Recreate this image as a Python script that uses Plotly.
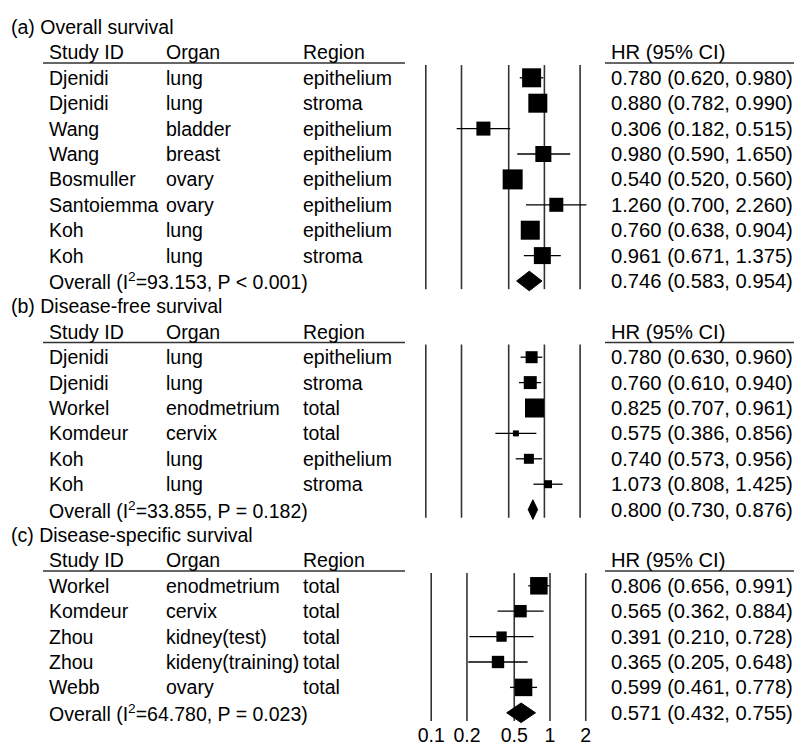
import math
import plotly.graph_objects as go

# ---------------- data ----------------
panel_titles = ["(a) Overall survival", "(b) Disease-free survival", "(c) Disease-specific survival"]
col_headers = ["Study ID", "Organ", "Region"]
hr_header = "HR (95% CI)"
tick_vals = [0.1, 0.2, 0.5, 1, 2]
tick_labels = ["0.1", "0.2", "0.5", "1", "2"]

os_study = ["Djenidi", "Djenidi", "Wang", "Wang", "Bosmuller", "Santoiemma", "Koh", "Koh"]
os_organ = ["lung", "lung", "bladder", "breast", "ovary", "ovary", "lung", "lung"]
os_region = ["epithelium", "stroma", "epithelium", "epithelium", "epithelium", "epithelium", "epithelium", "stroma"]
os_hr = [0.780, 0.880, 0.306, 0.980, 0.540, 1.260, 0.760, 0.961]
os_lo = [0.620, 0.782, 0.182, 0.590, 0.520, 0.700, 0.638, 0.671]
os_hi = [0.980, 0.990, 0.515, 1.650, 0.560, 2.260, 0.904, 1.375]
os_weight = [14.9, 14.9, 8.1, 10.6, 16.5, 8.1, 14.9, 11.9]
os_overall = [0.746, 0.583, 0.954]
os_i2 = "93.153"
os_p = "P < 0.001"

dfs_study = ["Djenidi", "Djenidi", "Workel", "Komdeur", "Koh", "Koh"]
dfs_organ = ["lung", "lung", "enodmetrium", "cervix", "lung", "lung"]
dfs_region = ["epithelium", "stroma", "total", "total", "epithelium", "stroma"]
dfs_hr = [0.780, 0.760, 0.825, 0.575, 0.740, 1.073]
dfs_lo = [0.630, 0.610, 0.707, 0.386, 0.573, 0.808]
dfs_hi = [0.960, 0.940, 0.961, 0.856, 0.956, 1.425]
dfs_weight = [16.5, 19.3, 41.3, 4.1, 11.4, 7.3]
dfs_overall = [0.800, 0.730, 0.876]
dfs_i2 = "33.855"
dfs_p = "P = 0.182"

dss_study = ["Workel", "Komdeur", "Zhou", "Zhou", "Webb"]
dss_organ = ["enodmetrium", "cervix", "kidney(test)", "kideny(training)", "ovary"]
dss_region = ["total", "total", "total", "total", "total"]
dss_hr = [0.806, 0.565, 0.391, 0.365, 0.599]
dss_lo = [0.656, 0.362, 0.210, 0.205, 0.461]
dss_hi = [0.991, 0.884, 0.728, 0.648, 0.778]
dss_weight = [29.9, 14.9, 10.4, 14.9, 29.9]
dss_overall = [0.571, 0.432, 0.755]
dss_i2 = "64.780"
dss_p = "P = 0.023"

# ---------------- layout constants (page pixels) ----------------
PW, PH = 802, 745
OFF = 8                      # default page body margin
W, H = PW - OFF, PH - OFF    # figure size
ROW0, ROWH = 27.0 - OFF, 25.4
FONT = dict(family="Liberation Sans, Arial, sans-serif", size=19.5, color="black")
FONT_HR = dict(family="Liberation Sans, Arial, sans-serif", size=20.2, color="black")
COLX = [47, 164, 301]
TITLEX = 9
HRX = 609
AX = {"x": (425.8 - OFF, 118.6), "x2": (431.2 - OFF, 118.8)}

panels = [
    dict(title=panel_titles[0], study=os_study, organ=os_organ, region=os_region, hr=os_hr, lo=os_lo, hi=os_hi,
         w=os_weight, ov=os_overall, i2=os_i2, p=os_p, box=20, xa="x"),
    dict(title=panel_titles[1], study=dfs_study, organ=dfs_organ, region=dfs_region, hr=dfs_hr, lo=dfs_lo, hi=dfs_hi,
         w=dfs_weight, ov=dfs_overall, i2=dfs_i2, p=dfs_p, box=19, xa="x"),
    dict(title=panel_titles[2], study=dss_study, organ=dss_organ, region=dss_region, hr=dss_hr, lo=dss_lo, hi=dss_hi,
         w=dss_weight, ov=dss_overall, i2=dss_i2, p=dss_p, box=17.5, xa="x2"),
]

fig = go.Figure()
ann = []
shapes = []


def px(x):
    return (x - OFF) / W


def text(x, k, s, font=FONT):
    ann.append(dict(x=px(x), y=k, xref="paper", yref="y", text=s, showarrow=False,
                    xanchor="left", yanchor="middle", font=font))


def fmt(h, l, u):
    return f"{h:.3f} ({l:.3f}, {u:.3f})"


k = 0
for pn in panels:
    xa = pn["xa"]
    text(TITLEX, k, pn["title"])
    k += 1
    hk = k
    for cx, ch in zip(COLX, col_headers):
        text(cx, hk, ch)
    text(HRX, hk, hr_header, FONT_HR)
    for x0, x1 in [(43, 405), (605, 802)]:
        shapes.append(dict(type="line", xref="paper", yref="y", x0=px(x0), x1=px(x1), y0=hk + 0.42, y1=hk + 0.42,
                           line=dict(color="#333333", width=1.5)))
    n = len(pn["hr"])
    rows = [hk + 1 + i for i in range(n)]
    ok = hk + 1 + n
    for i, r in enumerate(rows):
        text(COLX[0], r, pn["study"][i])
        text(COLX[1], r, pn["organ"][i])
        text(COLX[2], r, pn["region"][i])
        text(HRX, r, fmt(pn["hr"][i], pn["lo"][i], pn["hi"][i]), FONT_HR)
    text(COLX[0], ok, f"Overall (I<sup>2</sup>={pn['i2']}, {pn['p']})")
    text(HRX, ok, fmt(*pn["ov"]), FONT_HR)

    # reference lines
    vx, vy = [], []
    for v in tick_vals:
        vx += [v, v, None]
        vy += [hk + 0.5, ok + 0.32, None]
    fig.add_trace(go.Scatter(x=vx, y=vy, mode="lines", line=dict(color="#333333", width=1.6),
                             xaxis=xa, yaxis="y", hoverinfo="skip"))
    # confidence intervals
    cx_, cy_ = [], []
    for i, r in enumerate(rows):
        cx_ += [pn["lo"][i], pn["hi"][i], None]
        cy_ += [r, r, None]
    fig.add_trace(go.Scatter(x=cx_, y=cy_, mode="lines", line=dict(color="black", width=1.3),
                             xaxis=xa, yaxis="y", hoverinfo="skip"))
    # weighted boxes
    wmax = max(pn["w"])
    sizes = [pn["box"] * math.sqrt(w / wmax) for w in pn["w"]]
    fig.add_trace(go.Scatter(x=pn["hr"], y=rows, mode="markers", opacity=1,
                             marker=dict(symbol="square", size=sizes, color="#000000", opacity=1,
                                         line=dict(width=0, color="#000000")),
                             xaxis=xa, yaxis="y", hoverinfo="skip"))
    # pooled diamond
    est, lo, hi = pn["ov"]
    hh = 9.8 / ROWH
    fig.add_trace(go.Scatter(x=[lo, est, hi, est, lo], y=[ok, ok - hh, ok, ok + hh, ok], mode="lines",
                             fill="toself", fillcolor="black", line=dict(color="black", width=1),
                             xaxis=xa, yaxis="y", hoverinfo="skip"))
    k = ok + 1

# axis labels under last panel
fig.add_trace(go.Scatter(x=tick_vals, y=[k - 0.04] * len(tick_vals), mode="text", text=tick_labels,
                         textposition="middle center", textfont=FONT, xaxis="x2", yaxis="y", hoverinfo="skip"))


def xrange(key):
    p0, dec = AX[key]
    return [-1 - p0 / dec, -1 + (W - p0) / dec]


fig.update_layout(
    width=W, height=H, margin=dict(l=0, r=0, t=0, b=0),
    paper_bgcolor="white", plot_bgcolor="white", showlegend=False,
    xaxis=dict(type="log", range=xrange("x"), domain=[0, 1], visible=False, fixedrange=True),
    xaxis2=dict(type="log", range=xrange("x2"), domain=[0, 1], visible=False, overlaying="x", fixedrange=True),
    yaxis=dict(range=[(H - ROW0) / ROWH, -ROW0 / ROWH], domain=[0, 1], visible=False, fixedrange=True),
    annotations=ann, shapes=shapes,
)

fig.write_html("out.html")
